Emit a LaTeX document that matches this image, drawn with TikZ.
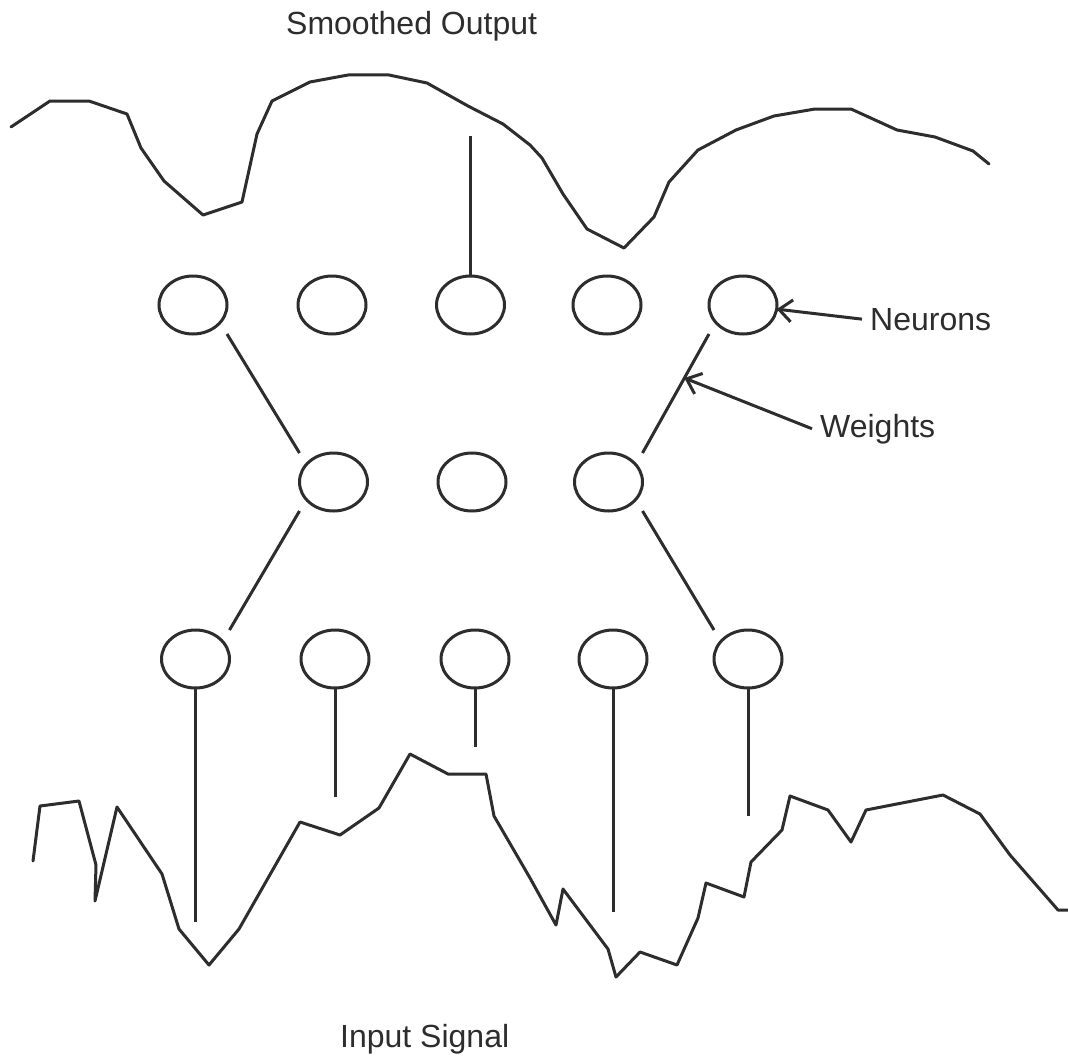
\documentclass[tikz,border=0pt]{standalone}
\usepackage{fontspec}
\setmainfont{Liberation Sans}
\usetikzlibrary{shapes.geometric,arrows.meta,calc}
\definecolor{ink}{RGB}{45,45,45}
\begin{document}
\begin{tikzpicture}[x=1pt,y=-1pt,
  neuron/.style={ellipse,draw=ink,line width=3pt,minimum width=68pt,minimum height=58pt,inner sep=0pt,outer sep=0pt},
  lbl/.style={font=\fontsize{32}{38}\selectfont,text=ink,inner sep=0pt,anchor=base west},
  sig/.style={draw=ink,line width=3pt,line join=round,line cap=round},
  wire/.style={draw=ink,line width=3pt},
  pointer/.style={draw=ink,line width=3pt,-{Straight Barb[length=13pt,width=22pt]}}
]
\useasboundingbox (0,0) rectangle (1068,1057);
\fill[white] (0,0) rectangle (1068,1057);

% labels
\node[lbl] (title) at (286,35) {Smoothed Output};
\node[lbl] (input) at (340,1047) {Input Signal};
\node[lbl,inner xsep=8pt] (lneur) at (862,330) {Neurons};
\node[lbl,inner xsep=8pt] (lwt) at (812,437) {Weights};

% neurons
\node[neuron] (n11) at (193,305) {};
\node[neuron] (n12) at (332,305) {};
\node[neuron] (n13) at (470.5,305) {};
\node[neuron] (n14) at (607,305) {};
\node[neuron] (n15) at (743,305) {};
\node[neuron] (n21) at (333.5,482) {};
\node[neuron] (n22) at (472,482) {};
\node[neuron] (n23) at (608.5,482) {};
\node[neuron] (n31) at (195.5,659) {};
\node[neuron] (n32) at (335,659) {};
\node[neuron] (n33) at (475,659) {};
\node[neuron] (n34) at (613,659) {};
\node[neuron] (n35) at (748,659) {};

% smoothed output curve
\draw[sig] (11,127) -- (50,101) -- (89,101) -- (127,114) -- (141,148) -- (164,181)
  -- (203,215) -- (242,202) -- (257,134) -- (272,101) -- (310,82) -- (348,75)
  -- (389,75) -- (427,83) -- (468,106) -- (503,124) -- (530,145) -- (542,158)
  -- (563,194) -- (587,229) -- (624,248) -- (654,217) -- (669,182) -- (698,150)
  -- (736,130) -- (774,116) -- (815,109) -- (851,109) -- (897,130) -- (935,137)
  -- (973,151) -- (989,164);

% input signal curve
\draw[sig] (33,861) -- (40,806) -- (79,801) -- (96,865) -- (95,901) -- (117,807)
  -- (162,874) -- (179,929) -- (209,965) -- (239,929) -- (300,822) -- (340,835)
  -- (379,808) -- (410,754) -- (448,774) -- (486,774) -- (494,816) -- (530,878)
  -- (556,925) -- (563,889) -- (608,949) -- (616,977) -- (640,952) -- (677,965)
  -- (698,918) -- (706,883) -- (744,897) -- (751,862) -- (782,830) -- (790,796)
  -- (828,810) -- (851,842) -- (866,810) -- (943,795) -- (980,814) -- (1010,855)
  -- (1058,910) -- (1068,910);

% free ends of the taps
\coordinate (t3) at (470.5,136);
\coordinate (b1) at (195.5,922);
\coordinate (b2) at (335,797);
\coordinate (b3) at (475,747);
\coordinate (b4) at (613,912);
\coordinate (b5) at (748,816);

% taps
\draw[wire] (n13.north) -- (t3);
\draw[wire] (n31.south) -- (b1);
\draw[wire] (n32.south) -- (b2);
\draw[wire] (n33.south) -- (b3);
\draw[wire] (n34.south) -- (b4);
\draw[wire] (n35.south) -- (b5);

% weights
\draw[wire] (n11.east |- n11.south) -- (n21.west |- n21.north);
\draw[wire] (n21.west |- n21.south) -- (n31.east |- n31.north);
\draw[wire] (n23.east |- n23.south) -- (n35.west |- n35.north);
\draw[wire] (n23.east |- n23.north) -- coordinate[pos=0.63] (wpt) (n15.west |- n15.south);

% pointers
\draw[pointer] (lneur.west) -- (n15.-7);
\draw[pointer] (lwt.west) -- (wpt);
\end{tikzpicture}
\end{document}
